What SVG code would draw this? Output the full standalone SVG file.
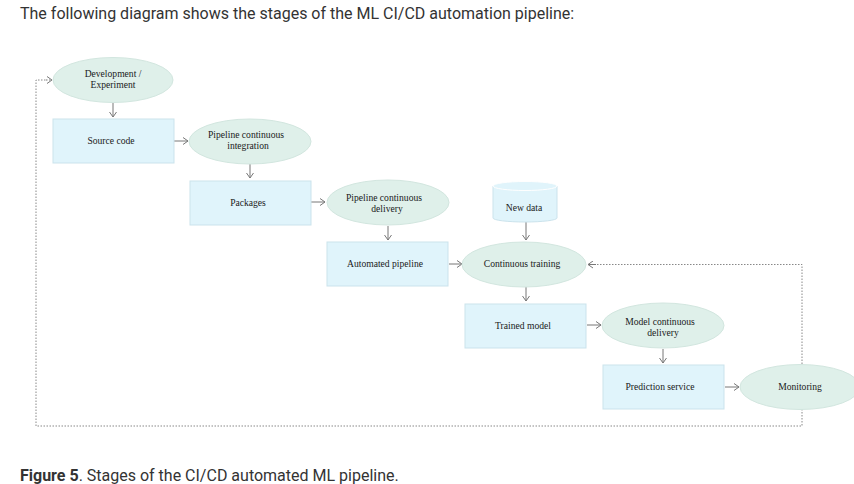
<svg xmlns="http://www.w3.org/2000/svg" width="854" height="484" viewBox="0 0 854 484">
<defs>
<marker id="ah" markerWidth="8" markerHeight="8" refX="6" refY="4" orient="auto" markerUnits="userSpaceOnUse">
<path d="M1,0.5 L6,4 L1,7.5" fill="none" stroke="#777" stroke-width="1"/>
</marker>
</defs>
<style>
.ell{fill:#dff0ea;stroke:#d2e6df;stroke-width:1}
.box{fill:#e0f4fb;stroke:#cbe3ec;stroke-width:1}
.lbl{font-family:"Liberation Serif","Times New Roman",serif;font-size:9.6px;fill:#1a1a1a;text-anchor:middle}
.ln{fill:none;stroke:#777;stroke-width:1;marker-end:url(#ah)}
.dot{fill:none;stroke:#888;stroke-width:1;stroke-dasharray:1.5,1.5}
.hd{font-family:Roboto,"Liberation Sans",sans-serif;font-size:16px;fill:#333}
</style>
<rect width="854" height="484" fill="#fff"/>
<text class="hd" x="20" y="19">The following diagram shows the stages of the ML CI/CD automation pipeline:</text>

<g id="connectors">
<path class="dot" d="M802,370 V426 H36 V80 H46"/>
<path class="ln" d="M46,80 H52" stroke-dasharray="1.5,1.5"/>
<path class="dot" d="M802,364 V264.5 H596"/>
<path class="ln" d="M596,264.5 H588"/>
<path class="ln" d="M113,103 V117"/>
<path class="ln" d="M174,141 H188"/>
<path class="ln" d="M250,164 V178"/>
<path class="ln" d="M311,202 H325"/>
<path class="ln" d="M388,226 V240"/>
<path class="ln" d="M449,264 H462"/>
<path class="ln" d="M526,222 V240"/>
<path class="ln" d="M526,287 V301"/>
<path class="ln" d="M587,325 H601"/>
<path class="ln" d="M663,349 V363"/>
<path class="ln" d="M725,387 H739"/>
</g>

<g id="dev">
<ellipse class="ell" cx="113" cy="80" rx="60" ry="22.5"/>
<text class="lbl" x="113" y="77">Development /</text>
<text class="lbl" x="113" y="88">Experiment</text>
</g>
<g id="source">
<rect class="box" x="53" y="119" width="121" height="44"/>
<text class="lbl" x="111" y="144">Source code</text>
</g>
<g id="pci">
<ellipse class="ell" cx="250" cy="141.5" rx="61" ry="22.5"/>
<text class="lbl" x="246" y="138">Pipeline continuous</text>
<text class="lbl" x="248" y="149">integration</text>
</g>
<g id="packages">
<rect class="box" x="190" y="181" width="121" height="44"/>
<text class="lbl" x="248" y="206">Packages</text>
</g>
<g id="pcd">
<ellipse class="ell" cx="388" cy="202.5" rx="61" ry="22.5"/>
<text class="lbl" x="384" y="201">Pipeline continuous</text>
<text class="lbl" x="387" y="212">delivery</text>
</g>
<g id="automated">
<rect class="box" x="327" y="242" width="121" height="44"/>
<text class="lbl" x="385" y="267">Automated pipeline</text>
</g>
<g id="newdata">
<path class="box" d="M493,186 V218 A32,4 0 0 0 557,218 V186" stroke="none"/>
<ellipse cx="525" cy="186" rx="32" ry="4.5" fill="#e0f4fb" stroke="#fff" stroke-width="1"/>
<text class="lbl" x="524" y="211">New data</text>
</g>
<g id="ct">
<ellipse class="ell" cx="524" cy="264.5" rx="62" ry="22.5"/>
<text class="lbl" x="522" y="267">Continuous training</text>
</g>
<g id="trained">
<rect class="box" x="465" y="304" width="121" height="44"/>
<text class="lbl" x="523" y="329">Trained model</text>
</g>
<g id="mcd">
<ellipse class="ell" cx="663" cy="325.5" rx="61" ry="22.5"/>
<text class="lbl" x="660" y="325">Model continuous</text>
<text class="lbl" x="663" y="336">delivery</text>
</g>
<g id="prediction">
<rect class="box" x="603" y="365" width="121" height="44"/>
<text class="lbl" x="660" y="390">Prediction service</text>
</g>
<g id="monitoring">
<ellipse class="ell" cx="800" cy="387" rx="60" ry="22.5"/>
<text class="lbl" x="800" y="390">Monitoring</text>
</g>

<text class="hd" x="20" y="481"><tspan font-weight="bold">Figure 5</tspan>. Stages of the CI/CD automated ML pipeline.</text>
</svg>
